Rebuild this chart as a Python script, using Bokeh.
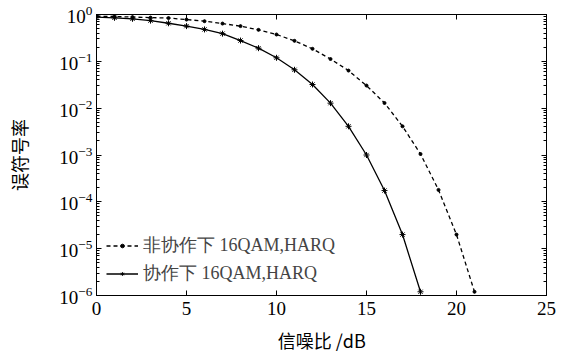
from bokeh.plotting import figure
from bokeh.models import (FixedTicker, LogTicker, LinearAxis, LogAxis, Legend, LegendItem,
                          CustomLabelingPolicy)
from bokeh.embed import file_html
from bokeh.resources import INLINE

# SNR (dB)
snr_coop = list(range(0, 19))
ser_coop = [0.88, 0.85, 0.81, 0.74, 0.65, 0.565, 0.48, 0.39, 0.278, 0.191,
            0.119, 0.066, 0.032, 0.0128, 0.0041, 1.0e-3, 1.74e-4, 2.0e-5, 1.2e-6]
snr_noncoop = list(range(0, 22))
ser_noncoop = [0.92, 0.906, 0.88, 0.86, 0.84, 0.78, 0.72, 0.64, 0.565, 0.47,
               0.374, 0.274, 0.185, 0.112, 0.0635, 0.0304, 0.0129, 0.0041,
               1.05e-3, 1.8e-4, 2.0e-5, 1.2e-6]
label_noncoop = "非协作下 16QAM,HARQ"
label_coop = "协作下 16QAM,HARQ"
x_ticks = [0, 5, 10, 15, 20, 25]
x_label = "信噪比 /dB"
y_label = "误符号率"

SERIF = "Liberation Serif"
CJK = "Noto Sans CJK SC"

p = figure(width=566, height=355, y_axis_type="log", x_range=(0, 25), y_range=(1e-6, 1),
           output_backend="svg", toolbar_location=None,
           min_border_left=96, min_border_right=20, min_border_top=14, min_border_bottom=48)
p.grid.visible = False
p.outline_line_color = "black"
p.outline_line_width = 1
p.background_fill_color = "white"
p.border_fill_color = "white"

r1l = p.line(snr_noncoop, ser_noncoop, line_color="black", line_width=1.3, line_dash="4 3")
r1m = p.scatter(snr_noncoop, ser_noncoop, marker="circle", size=3, color="black")
r2l = p.line(snr_coop, ser_coop, line_color="black", line_width=1.3)
r2m = p.scatter(snr_coop, ser_coop, marker="asterisk", size=6, line_color="black", line_width=1)

legend = Legend(items=[LegendItem(label=label_noncoop, renderers=[r1l, r1m]),
                       LegendItem(label=label_coop, renderers=[r2l, r2m])],
                location=(10, 10), border_line_color=None, background_fill_alpha=0,
                label_text_font=SERIF, label_text_font_size="18px",
                glyph_width=32, glyph_height=9, label_height=24,
                spacing=4, padding=4, margin=0, label_standoff=5)
p.add_layout(legend)

xa = p.xaxis[0]
xa.ticker = FixedTicker(ticks=x_ticks)
xa.axis_label = x_label
xa.axis_label_text_font = CJK
xa.axis_label_text_font_style = "normal"
xa.axis_label_text_font_size = "18px"
xa.axis_label_standoff = 9
xa.major_label_text_font = SERIF
xa.major_label_text_font_size = "19px"
xa.major_label_standoff = 6

ya = p.yaxis[0]
ya.axis_label = y_label
ya.axis_label_text_font = CJK
ya.axis_label_text_font_style = "normal"
ya.axis_label_text_font_size = "18px"
ya.axis_label_standoff = 24
ya.major_label_text_font = SERIF
ya.major_label_text_font_size = "19px"
ya.major_label_standoff = 4
ya.ticker = LogTicker(num_minor_ticks=10)

for ax in (xa, ya):
    ax.axis_line_color = "black"
    ax.major_tick_in = 5
    ax.major_tick_out = 0
    ax.minor_tick_in = 3
    ax.minor_tick_out = 0
    ax.major_label_text_color = "black"
    ax.axis_label_text_color = "black"
xa.minor_tick_line_color = None

hide = CustomLabelingPolicy(code="return new indices.constructor(indices.size, 0);")
top = LinearAxis(ticker=FixedTicker(ticks=x_ticks), major_tick_in=5, major_tick_out=0,
                 minor_tick_line_color=None, major_label_text_font_size="1px",
                 major_label_standoff=0, major_label_policy=hide)
right = LogAxis(ticker=LogTicker(num_minor_ticks=10), major_tick_in=5, major_tick_out=0,
                minor_tick_in=3, minor_tick_out=0, major_label_text_font_size="1px",
                major_label_standoff=0, major_label_policy=hide)
p.add_layout(top, "above")
p.add_layout(right, "right")

open("out.html", "w").write(file_html(p, INLINE))
